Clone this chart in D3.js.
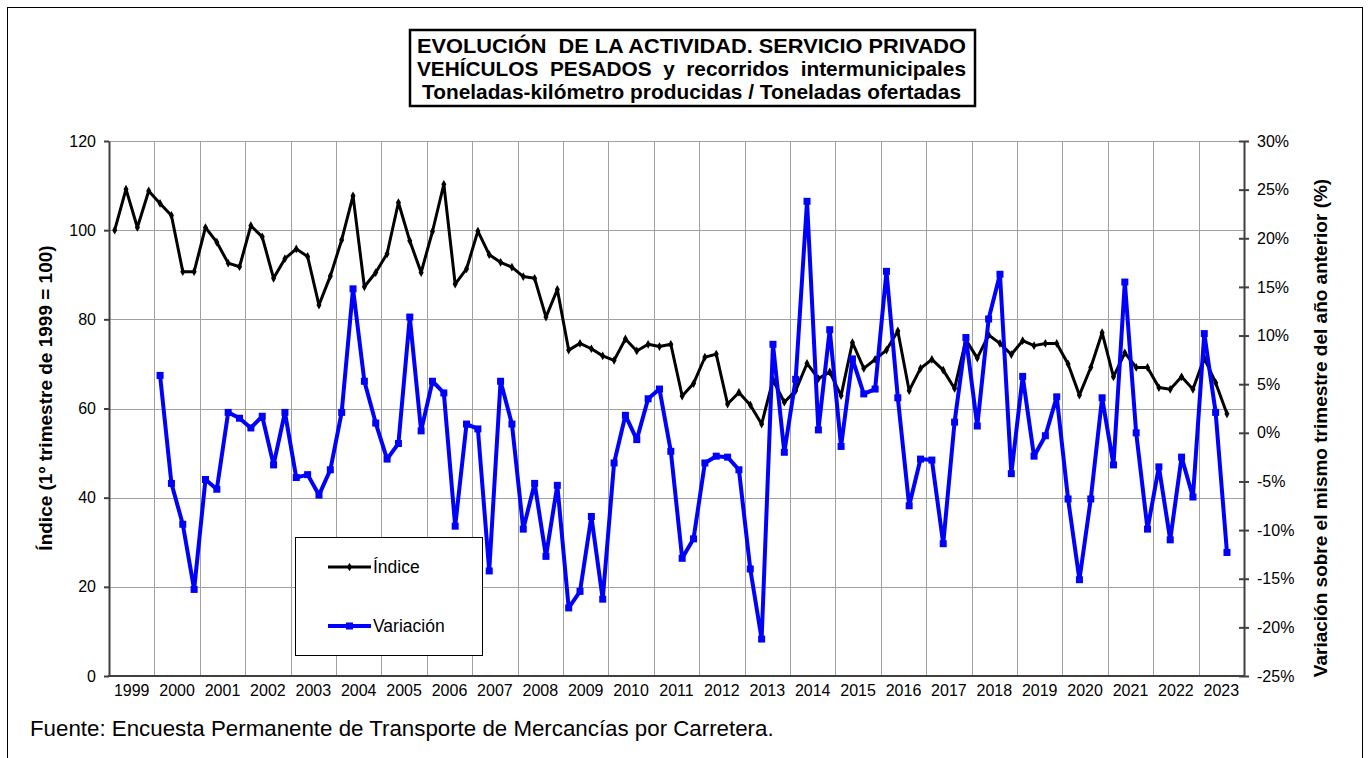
<!DOCTYPE html>
<html lang="es">
<head>
<meta charset="utf-8">
<title>Evolución de la actividad - Servicio privado</title>
<script src="https://d3js.org/d3.v7.min.js"></script>
<style>
body { margin: 0; background: #fff; }
svg { font-family: Arial, "Liberation Sans", sans-serif; }
.grid line { stroke: #a0a0a0; stroke-width: 1; shape-rendering: crispEdges; }
.axis path, .axis line { stroke: #404040; stroke-width: 2; fill: none; }
.axis text { font-size: 16px; fill: #000; }
.ttl { font-weight: bold; font-size: 21px; white-space: pre; }
.axtitle { font-weight: bold; font-size: 19px; }
</style>
</head>
<body>
<div id="chart"></div>
<script>
// year labels (one group of 4 quarters each)
var years = ["1999","2000","2001","2002","2003","2004","2005","2006","2007","2008","2009","2010",
             "2011","2012","2013","2014","2015","2016","2017","2018","2019","2020","2021","2022","2023"];
var trimestres = ["T1","T2","T3","T4"];

// Índice (1º trimestre de 1999 = 100), 1999T1 .. 2023T3
var indice = [100.0,109.2,100.6,108.8, 106.0,103.3,90.7,90.7, 100.6,97.3,92.6,91.8, 101.0,98.5,89.2,93.6,
              95.8,94.1,83.2,89.7, 97.8,107.7,87.3,90.5, 94.7,106.2,97.6,90.5, 99.7,110.3,87.9,91.3,
              99.8,94.5,92.8,91.7, 89.6,89.2,80.5,86.7, 73.1,74.6,73.4,71.8, 70.8,75.6,72.9,74.4,
              73.9,74.4,62.8,65.6, 71.5,72.2,61.0,63.6, 60.8,56.5,66.4,61.4, 64.0,70.1,66.7,68.2,
              62.9,74.8,69.0,71.0, 73.1,77.4,64.0,69.0, 71.0,68.6,64.5,75.4, 71.3,76.5,74.6,72.1,
              75.2,74.1,74.6,74.6, 70.0,63.0,69.2,77.0, 67.1,72.5,69.2,69.2, 64.7,64.3,67.1,64.3,
              71.3,65.8,58.8];

// Variación sobre el mismo trimestre del año anterior (%), 2000T1 .. 2023T3
var variacionInicio = "2000T1";
var variacion = [5.9,-5.2,-9.4,-16.1, -4.8,-5.8,2.1,1.5, 0.5,1.7,-3.3,2.1, -4.6,-4.3,-6.4,-3.8,
                 2.1,14.8,5.3,1.0, -2.7,-1.1,11.9,0.2, 5.3,4.1,-9.6,0.9, 0.4,-14.2,5.3,0.9,
                 -9.9,-5.2,-12.7,-5.4, -18.0,-16.3,-8.6,-17.1, -3.1,1.8,-0.7,3.5, 4.5,-1.9,-12.9,-10.9,
                 -3.1,-2.4,-2.5,-3.8, -14.0,-21.2,9.1,-2.0, 5.5,23.8,0.3,10.6, -1.4,7.6,4.0,4.5,
                 16.6,3.6,-7.5,-2.7, -2.8,-11.4,1.1,9.8, 0.7,11.7,16.3,-4.2, 5.8,-2.4,-0.3,3.7,
                 -6.8,-15.1,-6.8,3.6, -3.3,15.5,0.0,-9.9, -3.5,-11.0,-2.5,-6.6, 10.2,2.1,-12.3];

var indiceTicks = [0,20,40,60,80,100,120];
var variacionTicks = [-25,-20,-15,-10,-5,0,5,10,15,20,25,30];

var quarters = [];
years.forEach(function(y){ trimestres.forEach(function(t){ quarters.push(y + t); }); });

var W = 1370, H = 758;
var plot = {left: 109, right: 1244, top: 141, bottom: 676};

var svg = d3.select("#chart").append("svg").attr("width", W).attr("height", H);

// outer frame
svg.append("rect").attr("x", 7.5).attr("y", 7.5).attr("width", 1355).attr("height", 780)
   .attr("fill", "none").attr("stroke", "#000").attr("stroke-width", 1);

var x = d3.scaleBand().domain(quarters).range([plot.left, plot.right]);
var xc = function(q){ return x(q) + x.bandwidth() / 2; };
var yL = d3.scaleLinear().domain([0, 120]).range([plot.bottom, plot.top]);
var yR = d3.scaleLinear().domain([-25, 30]).range([plot.bottom, plot.top]);

// grid
var grid = svg.append("g").attr("class", "grid");
grid.selectAll(".h").data(indiceTicks.filter(function(d){ return d > 0; })).enter().append("line")
    .attr("x1", plot.left).attr("x2", plot.right)
    .attr("y1", function(d){ return Math.round(yL(d)) + 0.5; })
    .attr("y2", function(d){ return Math.round(yL(d)) + 0.5; });
grid.selectAll(".v").data(years.slice(1)).enter().append("line")
    .attr("y1", plot.top).attr("y2", plot.bottom)
    .attr("x1", function(d){ return Math.round(x(d + "T1")) + 0.5; })
    .attr("x2", function(d){ return Math.round(x(d + "T1")) + 0.5; });

// left axis
svg.append("g").attr("class", "axis")
    .attr("transform", "translate(" + plot.left + ",0)")
    .call(d3.axisLeft(yL).tickValues(indiceTicks).tickSize(5).tickSizeOuter(0).tickPadding(8));

// right axis (cross ticks)
var axR = svg.append("g").attr("class", "axis")
    .attr("transform", "translate(" + plot.right + ",0)")
    .call(d3.axisRight(yR).tickValues(variacionTicks).tickSize(5).tickSizeOuter(0).tickPadding(8)
          .tickFormat(function(d){ return d + "%"; }));
axR.selectAll(".tick line").attr("x1", -5);

// bottom axis
var axB = svg.append("g").attr("class", "axis");
axB.append("line").attr("x1", plot.left - 1).attr("x2", plot.right + 1)
   .attr("y1", plot.bottom).attr("y2", plot.bottom);
axB.selectAll("text").data(years).enter().append("text")
   .attr("x", function(d){ return x(d + "T1") + 2 * x.bandwidth(); })
   .attr("y", plot.bottom + 20)
   .attr("text-anchor", "middle")
   .attr("font-size", "16.5px")
   .text(function(d){ return d; });

// series
var lineL = d3.line().x(function(d){ return xc(d.q); }).y(function(d){ return yL(d.v); });
var lineR = d3.line().x(function(d){ return xc(d.q); }).y(function(d){ return yR(d.v); });

var indData = indice.map(function(v, i){ return {q: quarters[i], v: v}; });
var off = quarters.indexOf(variacionInicio);
var varData = variacion.map(function(v, i){ return {q: quarters[i + off], v: v}; });

svg.append("path").datum(indData).attr("d", lineL)
   .attr("fill", "none").attr("stroke", "#000").attr("stroke-width", 3).attr("stroke-linejoin", "round");
svg.append("g").selectAll("path").data(indData).enter().append("path")
   .attr("d", d3.symbol(d3.symbolDiamond, 22))
   .attr("transform", function(d){ return "translate(" + xc(d.q) + "," + yL(d.v) + ")"; })
   .attr("fill", "#000");

svg.append("path").datum(varData).attr("d", lineR)
   .attr("fill", "none").attr("stroke", "#0000ff").attr("stroke-width", 4).attr("stroke-linejoin", "round");
svg.append("g").selectAll("rect").data(varData).enter().append("rect")
   .attr("x", function(d){ return xc(d.q) - 3.5; })
   .attr("y", function(d){ return yR(d.v) - 3.5; })
   .attr("width", 7).attr("height", 7)
   .attr("fill", "#0000ff");

// legend
var lg = svg.append("g");
lg.append("rect").attr("x", 295.5).attr("y", 537.5).attr("width", 187).attr("height", 118)
  .attr("fill", "#fff").attr("stroke", "#000").attr("stroke-width", 1);
lg.append("line").attr("x1", 328).attr("x2", 371).attr("y1", 567).attr("y2", 567)
  .attr("stroke", "#000").attr("stroke-width", 3);
lg.append("path").attr("d", d3.symbol(d3.symbolDiamond, 22)).attr("transform", "translate(349.5,567)");
lg.append("text").attr("x", 373).attr("y", 573).attr("font-size", "17.5px").text("Índice");
lg.append("line").attr("x1", 328).attr("x2", 371).attr("y1", 626).attr("y2", 626)
  .attr("stroke", "#0000ff").attr("stroke-width", 4);
lg.append("rect").attr("x", 346).attr("y", 622.5).attr("width", 7).attr("height", 7).attr("fill", "#0000ff");
lg.append("text").attr("x", 373).attr("y", 632).attr("font-size", "17.5px").text("Variación");

// title box
svg.append("rect").attr("x", 410).attr("y", 30).attr("width", 565).attr("height", 76)
   .attr("fill", "#fff").attr("stroke", "#000").attr("stroke-width", 2.5);
var tl = [
  {t: "EVOLUCIÓN  DE LA ACTIVIDAD. SERVICIO PRIVADO", y: 52.5},
  {t: "VEHÍCULOS  PESADOS  y  recorridos  intermunicipales", y: 75.5},
  {t: "Toneladas-kilómetro producidas / Toneladas ofertadas", y: 98.5}
];
tl.forEach(function(l, i){
  svg.append("text").attr("class", "ttl").attr("y", l.y).text(l.t)
     .attr("x", i < 2 ? 417 : 422)
     .attr("textLength", i < 2 ? 549 : 539).attr("lengthAdjust", "spacingAndGlyphs");
});

// axis titles
svg.append("text").attr("class", "axtitle")
   .attr("transform", "translate(52,398) rotate(-90)").attr("text-anchor", "middle")
   .text("Índice (1º trimestre de 1999 = 100)");
svg.append("text").attr("class", "axtitle")
   .attr("transform", "translate(1327,428) rotate(-90)").attr("text-anchor", "middle")
   .text("Variación sobre el mismo trimestre del año anterior (%)");

// source
svg.append("text").attr("x", 30).attr("y", 736).attr("font-size", "22.3px")
   .text("Fuente: Encuesta Permanente de Transporte de Mercancías por Carretera.");
</script>
</body>
</html>
